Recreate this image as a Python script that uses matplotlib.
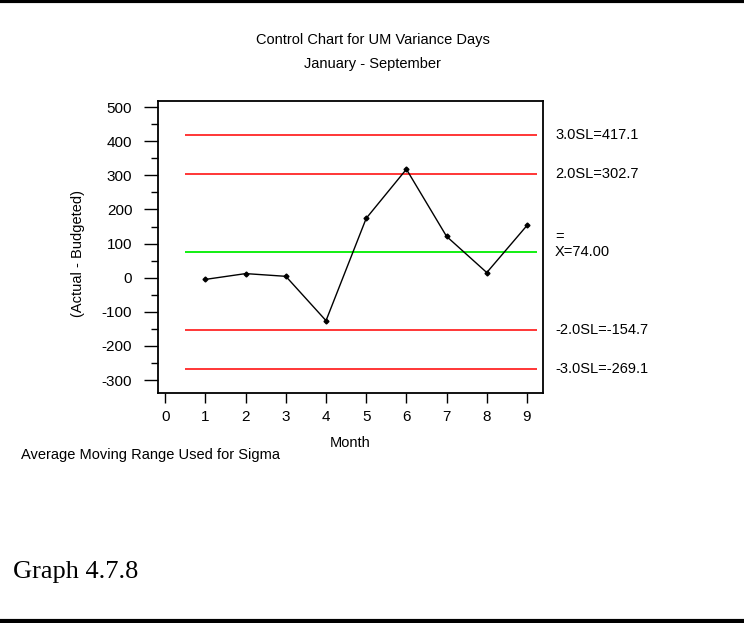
# Control chart for UM variance days

import numpy as np
import matplotlib.pyplot as plt
from matplotlib.lines import Line2D
from matplotlib.ticker import FuncFormatter

plt.rcParams['font.family'] = ['Liberation Sans', 'DejaVu Sans']

# Data
months = [1, 2, 3, 4, 5, 6, 7, 8, 9]
variance = [-5, 12, 4, -126, 174, 318, 121, 15, 153]

center = 74.00
limits = [417.1, 302.7, -154.7, -269.1]
limit_labels = ['3.0SL=417.1', '2.0SL=302.7', '-2.0SL=-154.7', '-3.0SL=-269.1']
x_ticks = [0, 1, 2, 3, 4, 5, 6, 7, 8, 9]
y_ticks = [-300, -200, -100, 0, 100, 200, 300, 400, 500]

fig = plt.figure(figsize=(7.44, 6.23), dpi=100)
ax = fig.add_axes([0.2124, 0.3692, 0.5175, 0.4687])

# Control lines
for lim in limits:
    ax.hlines(lim, 0.5, 9.25, color='#ff0000', lw=1.1)
ax.hlines(center, 0.5, 9.25, color='#00ee00', lw=1.3)

# Data
ax.plot(months, variance, color='black', lw=1, marker='D', ms=2.5)

ax.set_xlim(-0.18, 9.4)
ax.set_ylim(-338, 518)
ax.set_xticks(x_ticks)
ax.set_yticks(y_ticks)
ax.set_yticks(np.arange(-300, 501, 50), minor=True)
ax.yaxis.set_major_formatter(FuncFormatter(lambda v, p: '%d' % v))
ax.tick_params(axis='y', which='major', labelsize=11, direction='out', length=10, width=1, pad=8.5)
ax.tick_params(axis='y', which='minor', direction='out', length=5, width=1)
ax.tick_params(axis='x', labelsize=11, direction='out', length=7.2, width=1, pad=5)
for s in ax.spines.values():
    s.set_linewidth(1.3)

ax.set_xlabel('Month', fontsize=10.5)
ax.xaxis.set_label_coords(0.5, (393 - 443) / 292)
ax.xaxis.label.set_va('center')
ax.text(-0.208, 0.479, '(Actual - Budgeted)', transform=ax.transAxes, fontsize=10.5,
        rotation=90, ha='center', va='center')

# Right side labels
tr = ax.get_yaxis_transform()
for lim, lab in zip(limits, limit_labels):
    ax.text(1.031, lim, lab, transform=tr, fontsize=10.5, va='center', ha='left')
ax.text(1.031, center, 'X=74.00', transform=tr, fontsize=10.5, va='center', ha='left')
ax.text(1.031, center + 44, '=', transform=tr, fontsize=10.5, va='center', ha='left')

fig.text(0.501, 0.936, 'Control Chart for UM Variance Days', fontsize=10.5, ha='center', va='center')
fig.text(0.501, 0.897, 'January - September', fontsize=10.5, ha='center', va='center')
fig.text(0.028, 0.270, 'Average Moving Range Used for Sigma', fontsize=10.5, ha='left', va='center')
fig.text(0.018, 0.082, 'Graph 4.7.8', fontsize=19, ha='left', va='center',
         family=['Liberation Serif', 'DejaVu Serif'])

# Page border lines
fig.add_artist(Line2D([0, 1], [0.998, 0.998], color='black', lw=3, transform=fig.transFigure))
fig.add_artist(Line2D([0, 1], [0.0035, 0.0035], color='black', lw=3, transform=fig.transFigure))

fig.savefig('out.png', dpi=100)
